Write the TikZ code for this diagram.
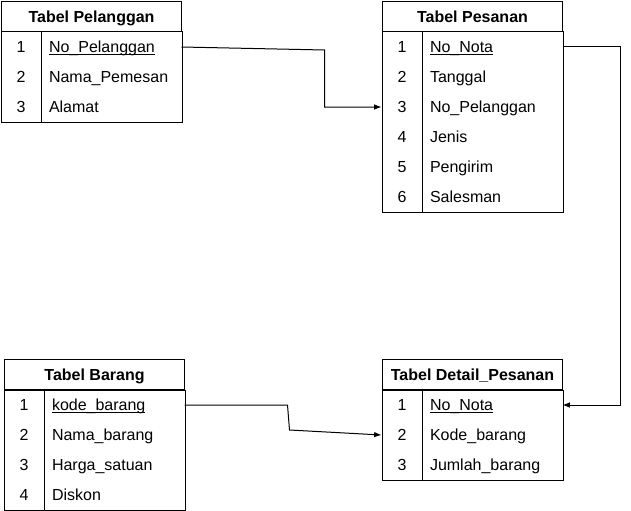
\documentclass[tikz,border=0pt]{standalone}
\usepackage{fontspec}
\setmainfont{Liberation Sans}
\usetikzlibrary{calc,positioning,arrows.meta}
\newcommand{\kunci}[1]{\setbox0\hbox{#1}\rlap{\rule[-1.8pt]{\wd0}{0.7pt}}\box0}
\newcommand{\tabel}[5]{% #1 name, #2 corner, #3 title, #4 rows, #5 fields
  \node[kepala] (#1) at #2 {#3};
  \foreach \i/\f in {#5} {
    \node[nomor] (#1-n\i) at ($(#1.south west)+(20,{30*\i-15})$) {\i};
    \node[kolom] (#1-\i) at ($(#1.south west)+(110,{30*\i-15})$) {\f};
  }
  \draw (#1.south west) rectangle ($(#1.south east)+(0,30*#4)$);
  \draw ($(#1.south west)+(40,0)$) -- ++(0,30*#4);
}

\begin{document}
\begin{tikzpicture}[x=.75pt,y=-.75pt,line width=.75pt,
    every node/.style={font=\fontsize{12}{14}\selectfont,text height=8.6pt,text depth=0pt},
    kepala/.style={draw,anchor=north west,minimum width=135pt,minimum height=22.5pt,inner sep=0pt,font=\fontsize{12}{14}\selectfont\bfseries},
    nomor/.style={minimum width=30pt,minimum height=22.5pt,inner sep=0pt},
    kolom/.style={text width=93pt,inner xsep=6pt,inner ysep=0pt,minimum height=22.5pt,align=left},
    panah/.style={-{Latex[length=5.5pt,width=4.2pt]}}]
  \useasboundingbox (0,0) rectangle (631,510);
  \tabel{pel}{(1,1)}{Tabel Pelanggan}{3}{1/\kunci{No\_Pelanggan},2/Nama\_Pemesan,3/Alamat}
  \tabel{pes}{(382,1)}{Tabel Pesanan}{6}{1/\kunci{No\_Nota},2/Tanggal,3/No\_Pelanggan,4/Jenis,5/Pengirim,6/Salesman}
  \tabel{bar}{(4,359)}{Tabel Barang}{4}{1/\kunci{kode\_barang},2/Nama\_barang,3/Harga\_satuan,4/Diskon}
  \tabel{det}{(382,359)}{Tabel Detail\_Pesanan}{3}{1/\kunci{No\_Nota},2/Kode\_barang,3/Jumlah\_barang}

  % relasi antar tabel
  \draw[panah] (pel-1.east) -- ++(143,3) |- (pes-n3.west);
  \draw[panah] (pes-1.east) -- ++(58,0) |- (det-1.east);
  \draw[panah] (bar-1.east) -- ++(103,0) -- ++(2,25) -- (det-n2.west);
\end{tikzpicture}
\end{document}
